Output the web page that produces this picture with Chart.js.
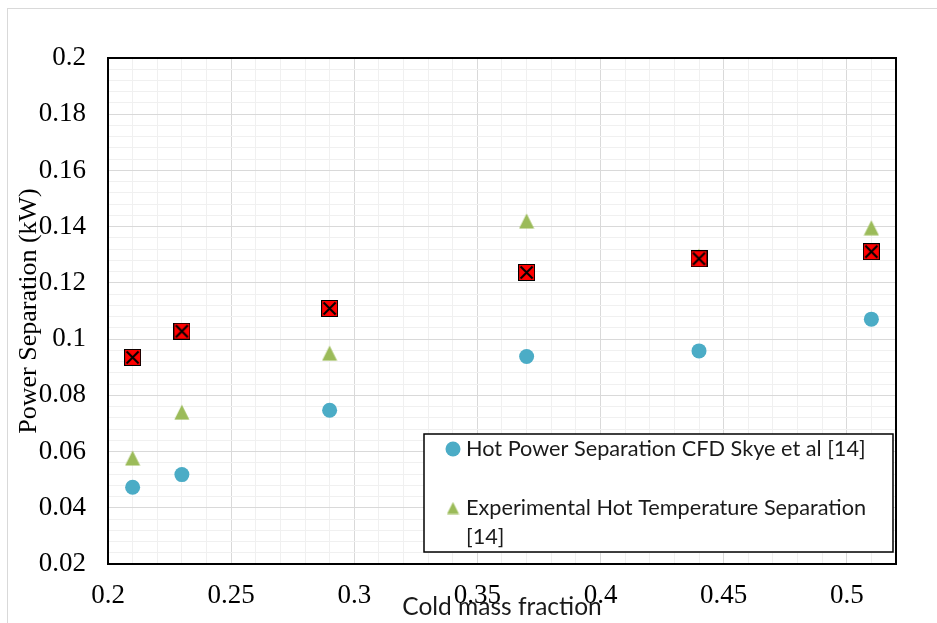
<!DOCTYPE html>
<html>
<head>
<meta charset="utf-8">
<script src="https://cdn.jsdelivr.net/npm/chart.js@4/dist/chart.umd.min.js"></script>
<style>
  html, body { margin: 0; padding: 0; background: #fff; }
  #chart { display: block; }
</style>
</head>
<body>
<canvas id="chart" width="937" height="623"></canvas>
<script>
// cold mass fraction
const coldFraction = [0.21, 0.23, 0.29, 0.37, 0.44, 0.51];
// power separation (kW)
const cfdSkye = [0.0473, 0.0518, 0.0747, 0.0938, 0.0958, 0.1071];
const experimental = [0.0577, 0.0740, 0.0950, 0.1420, 0.1295, 0.1396];
const presentCfd = [0.0935, 0.1028, 0.1109, 0.1237, 0.1286, 0.1311];

const seriesLabels = [
  'Hot Power Separation CFD Skye et al [14]',
  'Experimental Hot Temperature Separation [14]',
  'Hot Power Separation CFD'
];

const SERIF = "'Liberation Serif', 'Times New Roman', Times, serif";
const SANS = "Lato, 'Open Sans', sans-serif";

Chart.defaults.font.family = SERIF;

function pairs(ys) {
  return ys.map((y, i) => ({ x: coldFraction[i], y: y }));
}

function isMajor(v, step) {
  const r = v / step;
  return Math.abs(r - Math.round(r)) < 1e-6;
}

// marker images
function triangleMarker(size) {
  const c = document.createElement('canvas');
  c.width = size; c.height = size;
  const g = c.getContext('2d');
  g.fillStyle = '#9bbb59';
  g.beginPath();
  g.moveTo(size / 2, 0.5);
  g.lineTo(size - 0.5, size - 0.5);
  g.lineTo(0.5, size - 0.5);
  g.closePath();
  g.fill();
  return c;
}

function crossedSquare(size) {
  const c = document.createElement('canvas');
  c.width = size; c.height = size;
  const g = c.getContext('2d');
  g.fillStyle = '#ff0000';
  g.fillRect(0, 0, size, size);
  g.strokeStyle = '#000';
  g.lineWidth = 1;
  g.strokeRect(0.5, 0.5, size - 1, size - 1);
  g.lineWidth = 2;
  g.beginPath();
  g.moveTo(2.5, 2.5); g.lineTo(size - 2.5, size - 2.5);
  g.moveTo(size - 2.5, 2.5); g.lineTo(2.5, size - 2.5);
  g.stroke();
  return c;
}

const bigTriangle = triangleMarker(16);
const smallTriangle = triangleMarker(13);
const squareX = crossedSquare(17);

// light outer frame and white background
const pageFrame = {
  id: 'pageFrame',
  beforeDraw(chart) {
    const ctx = chart.ctx;
    ctx.save();
    ctx.fillStyle = '#fff';
    ctx.fillRect(0, 0, chart.width, chart.height);
    ctx.strokeStyle = '#d9d9d9';
    ctx.lineWidth = 1;
    ctx.strokeRect(7.5, 8.5, chart.width + 20, chart.height + 20);
    ctx.restore();
  }
};

// black box around the plot area
const plotFrame = {
  id: 'plotFrame',
  beforeDatasetsDraw(chart) {
    const a = chart.chartArea;
    const ctx = chart.ctx;
    ctx.save();
    ctx.strokeStyle = '#000';
    ctx.lineWidth = 2;
    ctx.strokeRect(a.left, a.top, a.right - a.left, a.bottom - a.top);
    ctx.restore();
  }
};

function wrapText(ctx, text, maxWidth) {
  const words = text.split(' ');
  const lines = [];
  let line = '';
  words.forEach(w => {
    const test = line ? line + ' ' + w : w;
    if (line && ctx.measureText(test).width > maxWidth) {
      lines.push(line);
      line = w;
    } else {
      line = test;
    }
  });
  if (line) lines.push(line);
  return lines;
}

// boxed legend inside the plot, first two series only
const boxLegend = {
  id: 'boxLegend',
  afterDraw(chart) {
    const a = chart.chartArea;
    const ctx = chart.ctx;
    const box = { left: 424, top: 434, right: a.right - 3, bottom: a.bottom - 12 };
    ctx.save();
    ctx.fillStyle = '#fff';
    ctx.fillRect(box.left, box.top, box.right - box.left, box.bottom - box.top);
    ctx.strokeStyle = '#000';
    ctx.lineWidth = 1.5;
    ctx.strokeRect(box.left, box.top, box.right - box.left, box.bottom - box.top);

    ctx.font = '21.7px ' + SANS;
    ctx.fillStyle = '#1a1a1a';
    ctx.textBaseline = 'middle';
    ctx.textAlign = 'left';
    const markerX = box.left + 29;
    const textX = box.left + 42;
    const lineGap = 29;
    const rowY = [box.top + 15, box.top + 74];

    [0, 1].forEach((idx, k) => {
      const ds = chart.data.datasets[idx];
      const y = rowY[k];
      if (idx === 0) {
        ctx.fillStyle = ds.backgroundColor;
        ctx.beginPath();
        ctx.arc(markerX, y, 7.5, 0, Math.PI * 2);
        ctx.fill();
      } else {
        ctx.drawImage(smallTriangle, markerX - 6.5, y - 6.5);
      }
      ctx.fillStyle = '#1a1a1a';
      const lines = wrapText(ctx, ds.label, box.right - textX - 8);
      lines.forEach((ln, j) => ctx.fillText(ln, textX, y + j * lineGap));
    });
    ctx.restore();
  }
};

new Chart(document.getElementById('chart'), {
  type: 'scatter',
  data: {
    datasets: [
      {
        label: seriesLabels[0],
        data: pairs(cfdSkye),
        pointStyle: 'circle',
        pointRadius: 7.5,
        backgroundColor: '#4bacc6',
        borderWidth: 0,
        order: 2
      },
      {
        label: seriesLabels[1],
        data: pairs(experimental),
        pointStyle: bigTriangle,
        backgroundColor: '#9bbb59',
        order: 1
      },
      {
        label: seriesLabels[2],
        data: pairs(presentCfd),
        pointStyle: squareX,
        backgroundColor: '#ff0000',
        order: 0
      }
    ]
  },
  options: {
    responsive: false,
    animation: false,
    devicePixelRatio: 1,
    events: [],
    layout: { padding: { left: 0, top: 58, right: 41, bottom: 0 } },
    plugins: {
      legend: { display: false },
      tooltip: { enabled: false }
    },
    scales: {
      x: {
        type: 'linear',
        min: 0.2,
        max: 0.52,
        afterFit(scale) { scale.height = 59; },
        ticks: {
          stepSize: 0.01,
          autoSkip: false,
          maxRotation: 0,
          padding: 16,
          color: '#000',
          font: { family: SERIF, size: 27 },
          callback: v => isMajor(v, 0.05) ? String(Math.round(v * 100) / 100) : ''
        },
        grid: {
          drawTicks: false,
          lineWidth: 1,
          color: c => isMajor(c.tick.value, 0.05) ? '#d9d9d9' : '#f0f0f0'
        },
        border: { color: '#000', width: 2 },
        title: {
          display: true,
          text: 'Cold mass fraction',
          color: '#1a1a1a',
          font: { family: SANS, size: 24.5 },
          padding: { top: 0, bottom: 1 }
        }
      },
      y: {
        type: 'linear',
        min: 0.02,
        max: 0.2,
        afterFit(scale) { scale.width = 108; },
        ticks: {
          stepSize: 0.004,
          autoSkip: false,
          padding: 22,
          color: '#000',
          font: { family: SERIF, size: 27 },
          callback: v => isMajor(v, 0.02) ? String(Math.round(v * 1000) / 1000) : ''
        },
        grid: {
          drawTicks: false,
          lineWidth: 1,
          color: c => isMajor(c.tick.value, 0.02) ? '#d9d9d9' : '#f0f0f0'
        },
        border: { color: '#000', width: 2 },
        title: {
          display: true,
          text: 'Power Separation (kW)',
          color: '#000',
          font: { family: SERIF, size: 26 },
          padding: { top: 14, bottom: 0 }
        }
      }
    }
  },
  plugins: [pageFrame, plotFrame, boxLegend]
});
</script>
</body>
</html>
